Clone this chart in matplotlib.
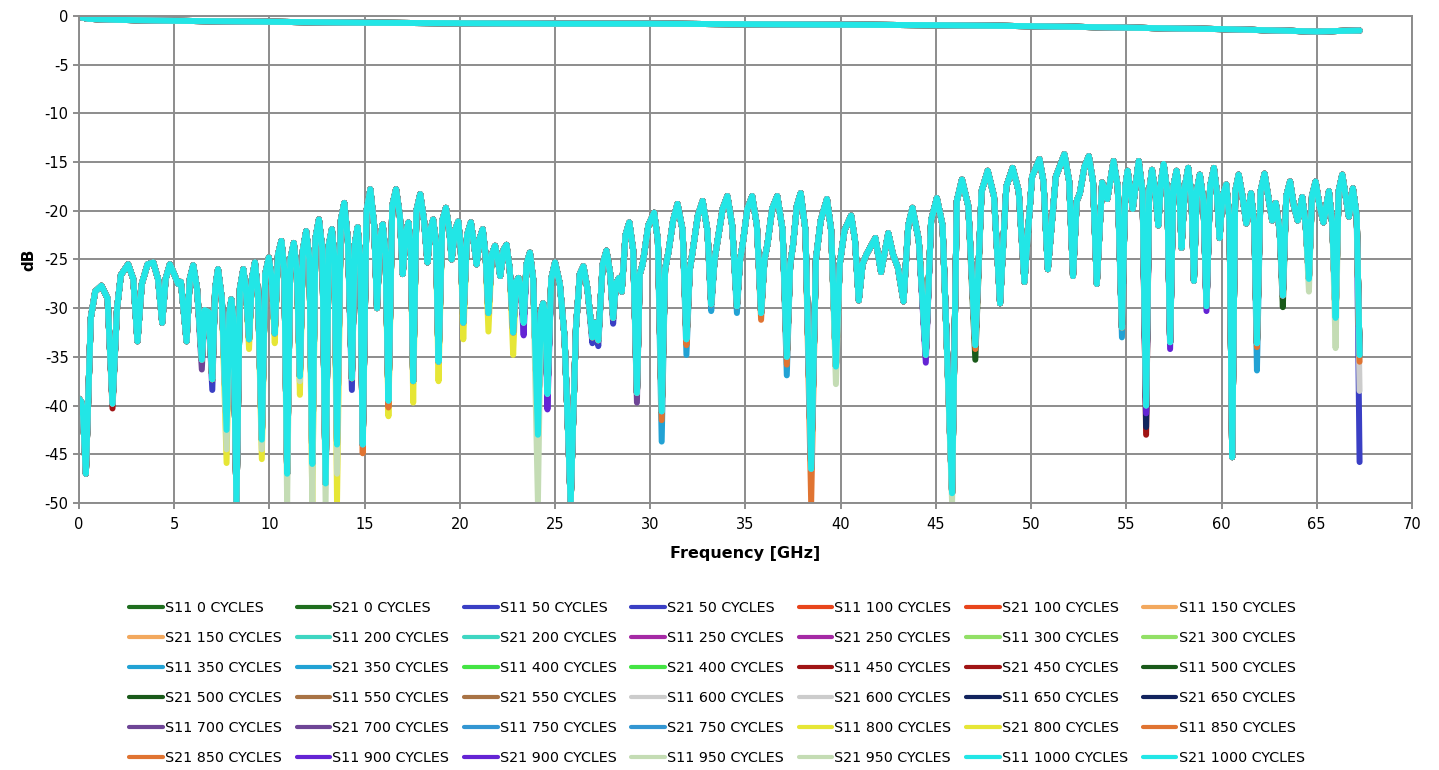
import numpy as np
import matplotlib
matplotlib.use("Agg")
import matplotlib.pyplot as plt

plt.rcParams["font.family"] = ["DejaVu Sans"]
plt.rcParams["axes.unicode_minus"] = False

# Cycle counts and their legend colours (S11 and S21 share a colour).
CYCLES = [0, 50, 100, 150, 200, 250, 300, 350, 400, 450, 500,
          550, 600, 650, 700, 750, 800, 850, 900, 950, 1000]
COLORS = ["#1f6e1f", "#3a3fc4", "#e8451c", "#f2a85e", "#3ed6c2", "#a52aa5",
          "#92e066", "#22a2d4", "#44e444", "#a01414", "#1a5a1a", "#a87345",
          "#cccccc", "#12245e", "#6e4596", "#3396d2", "#e6e636", "#e07432",
          "#6424d4", "#c4dcb4", "#22e6e6"]

# S11 trace (1000 cycles, the one drawn on top), vertices.
FREQ_S11 = [
    0.0, 0.12, 0.2, 0.36, 0.62, 0.85, 1.18, 1.5, 1.76, 2.0, 2.2, 2.58, 2.85, 3.07,
    3.3, 3.6, 3.9, 4.15, 4.37, 4.55, 4.77, 5.0, 5.2, 5.35, 5.65, 5.82, 6.0, 6.2,
    6.45, 6.6, 6.8, 7.0, 7.15, 7.3, 7.5, 7.75, 7.9, 8.0, 8.1, 8.27, 8.45, 8.63,
    8.78, 8.93, 9.08, 9.24, 9.4, 9.6, 9.78, 9.97, 10.12, 10.28, 10.45, 10.63,
    10.78, 10.93, 11.1, 11.28, 11.45, 11.6, 11.76, 11.93, 12.1, 12.25, 12.42,
    12.6, 12.78, 12.95, 13.12, 13.28, 13.42, 13.55, 13.75, 13.93, 14.12, 14.33,
    14.48, 14.63, 14.77, 14.9, 15.1, 15.3, 15.5, 15.65, 15.8, 15.95, 16.1, 16.25,
    16.45, 16.65, 16.85, 17.0, 17.15, 17.3, 17.43, 17.55, 17.72, 17.92, 18.12,
    18.3, 18.45, 18.6, 18.75, 18.88, 19.08, 19.27, 19.45, 19.57, 19.75, 19.92,
    20.05, 20.18, 20.38, 20.58, 20.75, 20.88, 21.05, 21.2, 21.35, 21.5, 21.68,
    21.85, 22.0, 22.12, 22.3, 22.45, 22.62, 22.8, 22.95, 23.08, 23.2, 23.35,
    23.5, 23.68, 23.85, 24.1, 24.25, 24.38, 24.5, 24.6, 24.8, 25.0, 25.25, 25.5,
    25.82, 26.1, 26.3, 26.49, 26.7, 26.96, 27.1, 27.27, 27.5, 27.7, 27.9, 28.05,
    28.2, 28.36, 28.5, 28.7, 28.9, 29.1, 29.3, 29.45, 29.6, 29.9, 30.2, 30.4,
    30.6, 30.78, 30.95, 31.2, 31.43, 31.7, 31.9, 32.08, 32.2, 32.5, 32.75, 33.0,
    33.2, 33.38, 33.5, 33.8, 34.05, 34.3, 34.55, 34.72, 34.85, 35.1, 35.35, 35.6,
    35.82, 36.0, 36.15, 36.4, 36.67, 36.95, 37.17, 37.35, 37.5, 37.7, 37.9,
    38.15, 38.45, 38.7, 38.95, 39.28, 39.5, 39.75, 39.95, 40.2, 40.55, 40.75,
    40.95, 41.15, 41.35, 41.82, 42.12, 42.5, 42.75, 43.0, 43.3, 43.55, 43.77,
    44.1, 44.47, 44.75, 45.05, 45.35, 45.85, 46.1, 46.37, 46.7, 47.07, 47.4,
    47.72, 48.05, 48.37, 48.7, 49.03, 49.35, 49.65, 50.05, 50.44, 50.65, 50.88,
    51.3, 51.75, 52.0, 52.2, 52.4, 52.56, 52.8, 53.03, 53.25, 53.45, 53.73, 54.0,
    54.33, 54.55, 54.77, 54.95, 55.07, 55.34, 55.65, 55.85, 56.04, 56.2, 56.35,
    56.55, 56.68, 56.82, 56.96, 57.15, 57.3, 57.47, 57.64, 57.8, 57.9, 58.08,
    58.25, 58.42, 58.55, 58.7, 58.86, 59.05, 59.21, 59.4, 59.6, 59.75, 59.9,
    60.05, 60.25, 60.42, 60.56, 60.72, 60.9, 61.1, 61.3, 61.55, 61.72, 61.86,
    62.05, 62.26, 62.45, 62.66, 62.85, 63.05, 63.22, 63.4, 63.6, 63.8, 64.0,
    64.24, 64.42, 64.59, 64.75, 64.94, 65.15, 65.35, 65.64, 65.82, 65.99, 66.15,
    66.34, 66.52, 66.69, 66.9, 67.1, 67.25,
]
S11_DB = [
    -39.3, -39.6, -40.5, -47.0, -31.0, -28.3, -27.7, -29.0, -39.8, -30.0, -26.6,
    -25.5, -27.0, -33.4, -27.5, -25.5, -25.3, -27.0, -31.5, -27.0, -25.5, -26.5,
    -27.5, -27.3, -33.4, -27.0, -25.6, -28.0, -35.3, -30.2, -30.4, -37.3, -28.0,
    -26.0, -29.0, -42.5, -30.5, -29.1, -31.0, -50.0, -28.0, -26.0, -28.5, -33.2,
    -27.0, -25.3, -28.5, -43.5, -26.5, -24.8, -27.0, -32.6, -24.5, -23.1, -26.0,
    -47.0, -25.0, -23.3, -26.5, -37.0, -24.0, -22.1, -25.0, -46.0, -22.8, -20.9,
    -24.0, -48.0, -23.5, -21.9, -25.0, -44.0, -21.0, -19.2, -23.0, -37.2, -23.5,
    -21.7, -25.0, -44.0, -20.0, -17.8, -21.5, -30.0, -23.0, -21.4, -24.5, -39.5,
    -19.5, -17.8, -20.5, -26.5, -22.5, -21.2, -24.0, -37.5, -20.0, -18.3, -21.0,
    -25.3, -22.0, -20.9, -23.5, -35.5, -21.0, -19.7, -22.0, -25.0, -22.0, -21.1,
    -24.0, -31.5, -22.5, -21.2, -23.5, -25.5, -22.8, -21.9, -24.5, -30.5, -24.5,
    -23.6, -25.0, -26.7, -24.0, -23.5, -26.0, -32.5, -27.3, -26.9, -28.0, -31.5,
    -25.5, -24.3, -27.0, -43.0, -30.5, -29.5, -31.0, -38.8, -27.0, -25.3, -27.5,
    -33.0, -50.0, -32.0, -26.5, -25.7, -28.0, -33.0, -31.5, -33.3, -25.5, -24.1,
    -26.5, -31.0, -27.5, -26.9, -28.3, -22.5, -21.2, -24.0, -38.7, -26.5, -25.5,
    -21.5, -20.2, -23.0, -40.6, -26.0, -24.3, -21.0, -19.3, -22.0, -33.2, -26.0,
    -24.5, -20.5, -19.0, -22.0, -29.6, -25.0, -23.5, -19.8, -18.5, -21.5, -29.8,
    -25.0, -23.5, -19.8, -18.5, -21.5, -30.5, -25.0, -23.5, -19.8, -18.5, -22.0,
    -35.0, -25.5, -23.5, -19.5, -18.2, -22.0, -46.5, -25.0, -21.0, -18.8, -22.0,
    -36.0, -25.5, -22.0, -20.5, -23.0, -29.2, -25.5, -24.5, -22.8, -26.3, -22.3,
    -24.5, -25.8, -29.3, -21.5, -19.7, -23.0, -34.8, -21.0, -18.7, -21.5, -49.0,
    -19.0, -16.8, -19.5, -33.8, -18.0, -15.9, -18.5, -29.5, -17.5, -15.6, -18.0,
    -27.3, -16.5, -14.7, -17.0, -26.0, -16.5, -14.2, -17.0, -26.7, -19.0, -18.2,
    -15.5, -14.4, -17.0, -27.5, -17.1, -18.8, -14.9, -17.5, -32.0, -17.5, -15.9,
    -19.8, -14.9, -18.0, -40.0, -18.0, -15.8, -18.5, -21.5, -17.0, -15.2, -18.0,
    -33.5, -17.5, -15.9, -18.5, -23.8, -17.5, -15.6, -18.5, -27.2, -18.0, -16.3,
    -19.0, -29.8, -17.5, -15.6, -18.0, -22.8, -18.5, -17.3, -21.0, -45.3, -18.0,
    -16.3, -18.5, -21.3, -18.2, -21.5, -33.6, -18.0, -16.2, -18.5, -21.0, -19.2,
    -22.0, -28.7, -18.5, -17.0, -19.5, -21.0, -18.6, -21.5, -27.0, -18.5, -17.0,
    -19.5, -21.2, -18.0, -21.5, -31.0, -18.0, -16.3, -18.5, -20.6, -17.7, -20.5,
    -34.8,
]

# Nulls where an earlier cycle count reaches deeper than the 1000-cycle trace
# (freq GHz, dB), read from the coloured tips.
S11_TIPS = {
    50: [(7.0, -38.4), (14.33, -38.4), (26.96, -33.6), (27.27, -33.9),
         (28.05, -31.6), (56.04, -41.0), (67.25, -45.8)],
    350: [(30.6, -43.7), (31.9, -34.8), (33.2, -30.3), (34.55, -30.5),
          (37.17, -36.9), (54.77, -33.0), (61.86, -36.4)],
    450: [(1.76, -40.3), (56.04, -43.0)],
    500: [(47.07, -35.3), (63.22, -29.9)],
    600: [(67.25, -38.5)],
    650: [(56.04, -42.2)],
    700: [(6.45, -36.3), (29.3, -39.7)],
    800: [(7.75, -45.9), (8.93, -34.2), (9.6, -45.5), (10.28, -33.6),
          (11.6, -38.9), (12.25, -50.0), (13.55, -50.0), (16.25, -41.1),
          (17.55, -39.7), (18.88, -37.5), (20.18, -33.2), (21.5, -32.4),
          (22.8, -34.8)],
    850: [(14.9, -44.9), (16.25, -40.2), (30.6, -41.5), (31.9, -33.8),
          (35.82, -31.2), (37.17, -35.8), (38.45, -50.0), (47.07, -34.2),
          (61.86, -34.0), (67.25, -35.5)],
    900: [(23.35, -32.8), (24.6, -40.4), (44.47, -35.6), (56.04, -40.8),
          (57.3, -34.2), (59.21, -30.3)],
    950: [(7.75, -44.5), (9.6, -44.5), (10.93, -50.0), (11.6, -37.5),
          (12.25, -50.0), (12.95, -50.0), (13.55, -47.0), (24.1, -50.0),
          (39.75, -37.8), (45.85, -50.0), (64.59, -28.3), (65.99, -34.1)],
}

# S21 insertion loss (all cycle counts overlap).
FREQ_S21 = [0.0, 0.5, 2.0, 5.0, 10.0, 15.0, 20.0, 25.0, 30.0, 35.0, 40.0, 45.0,
            50.0, 55.0, 58.0, 60.0, 62.0, 64.0, 65.0, 66.0, 67.25]
S21_DB = [-0.1, -0.3, -0.4, -0.5, -0.6, -0.7, -0.75, -0.8, -0.8, -0.85, -0.9,
          -0.95, -1.05, -1.2, -1.3, -1.35, -1.45, -1.55, -1.6, -1.55, -1.5]


def s11_for(cycles):
    vals = list(S11_DB)
    freqs = np.array(FREQ_S11)
    for f, v in S11_TIPS.get(cycles, []):
        vals[int(np.argmin(np.abs(freqs - f)))] = v
    return vals


fig = plt.figure(figsize=(14.39, 7.70), dpi=100)
ax = fig.add_axes([0.0549, 0.3468, 0.9263, 0.6325])

grid_c = "#8c8c8c"
line_kw = dict(lw=4.3, solid_joinstyle="round", solid_capstyle="round")
for c, col in zip(CYCLES, COLORS):
    ax.plot(FREQ_S11, s11_for(c), color=col, label=f"S11 {c} CYCLES", **line_kw)
    ax.plot(FREQ_S21, S21_DB, color=col, label=f"S21 {c} CYCLES", **line_kw)

ax.set_xlim(0, 70)
ax.set_ylim(-50, 0)
ax.set_xticks(np.arange(0, 71, 5))
ax.set_yticks(np.arange(-50, 1, 5))
ax.grid(True, color=grid_c, lw=1.4)
ax.set_axisbelow(True)
for s in ax.spines.values():
    s.set_color(grid_c)
    s.set_linewidth(1.4)
ax.tick_params(direction="out", length=4, width=1.4, color=grid_c,
               labelsize=10.5)
ax.tick_params(axis="x", pad=6)
ax.set_xlabel("Frequency [GHz]", fontsize=11.5, fontweight="bold", labelpad=10)
ax.set_ylabel("dB", fontsize=11, fontweight="bold", labelpad=6)

# Legend is row-major in the source; matplotlib fills columns first.
handles, labels = ax.get_legend_handles_labels()
ncol, nrow = 7, 6
order = [r * ncol + c for c in range(ncol) for r in range(nrow)]
leg = fig.legend([handles[i] for i in order], [labels[i] for i in order],
                 ncol=ncol, loc="upper left", bbox_to_anchor=(0.0898, 0.2195),
                 frameon=False, fontsize=10.3, handlelength=2.35,
                 handletextpad=0.15, columnspacing=1.03, labelspacing=1.12,
                 borderpad=0, borderaxespad=0)
for ln in leg.get_lines():
    ln.set_linewidth(3)

fig.savefig("out.png", dpi=100)
